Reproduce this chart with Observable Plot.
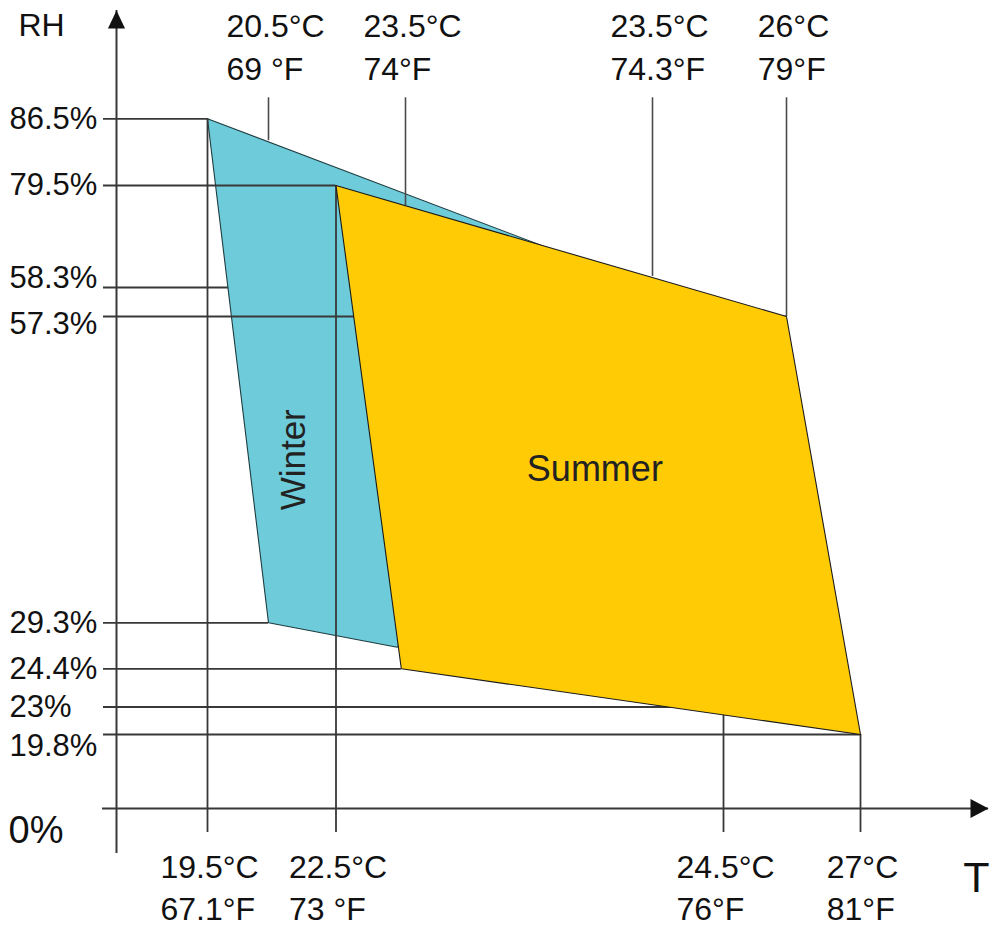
<!DOCTYPE html>
<html>
<head>
<meta charset="utf-8">
<script src="https://cdn.jsdelivr.net/npm/d3@7"></script>
<script src="https://cdn.jsdelivr.net/npm/@observablehq/plot@0.6"></script>
<style>
  html, body { margin: 0; padding: 0; background: #fff; }
  #chart { width: 996px; height: 927px; }
</style>
</head>
<body>
<div id="chart"></div>
<script>
// ---------------- data ----------------
// RH levels marked on the vertical axis
const rhTicks  = [86.5, 79.5, 58.3, 57.3, 29.3, 24.4, 23, 19.8];
const rhLabels = ["86.5%", "79.5%", "58.3%", "57.3%", "29.3%", "24.4%", "23%", "19.8%"];
// temperature (°F) at which each RH guide line ends
const rhEndF   = [67.1, 73, 74.3, 79, 69, 73.94, 76, 81];

// temperature markers above the zones
const topF      = [69, 74, 74.3, 79];
const topLabelC = ["20.5°C", "23.5°C", "23.5°C", "26°C"];
const topLabelF = ["69 °F", "74°F", "74.3°F", "79°F"];
const topEndRH  = [84.2, 75.3, 60.6, 57.3];

// temperature markers below the zones
const botF      = [67.1, 73, 76, 81];
const botLabelC = ["19.5°C", "22.5°C", "24.5°C", "27°C"];
const botLabelF = ["67.1°F", "73 °F", "76°F", "81°F"];
const botEndRH  = [86.5, 79.5, 22.1, 19.8];

// comfort zones (°F, RH %)
const winterF  = [67.1, 74.3, 73.88, 69];
const winterRH = [86.5, 58.3, 26.7, 29.3];
const summerF  = [73, 79, 81, 73.94];
const summerRH = [79.5, 57.3, 19.8, 24.4];

const zoneNames   = ["Winter", "Summer"];
const zoneLabelF  = [70.47, 74.23];
const zoneLabelRH = [44.2, 43.3];

// schematic, non-linear axes: origin plus the marked values
const xOrigin = 64;
const xKnots = [xOrigin, 67.1, 69, 73, 74, 74.3, 76, 79, 81];
const yKnots = [0, 19.8, 23, 24.4, 29.3, 57.3, 58.3, 79.5, 86.5];

// ---------------- tables ----------------
const hLines = rhTicks.map((rh, i) => ({rh, label: rhLabels[i], endF: rhEndF[i]}));
const topData = topF.map((f, i) => ({f, c: topLabelC[i], F: topLabelF[i], end: topEndRH[i]}));
const botData = botF.map((f, i) => ({f, c: botLabelC[i], F: botLabelF[i], end: botEndRH[i]}));
const closed = (F, RH) => F.concat([F[0]]).map((f, i) => ({f, rh: RH.concat([RH[0]])[i]}));
const winter = closed(winterF, winterRH);
const summer = closed(summerF, summerRH);
const zones = zoneNames.map((name, i) => ({name, f: zoneLabelF[i], rh: zoneLabelRH[i]}));

// ---------------- styles ----------------
const FONT = "'Liberation Sans', Arial, Helvetica, sans-serif";
const INK = "#111";
const LINE = "#383838";
const TEMP_SIZE = 32;
const arrowUp = {draw(ctx, size) { const r = Math.sqrt(size / Math.PI);
  ctx.moveTo(0, 0); ctx.lineTo(r * 0.95, r * 2); ctx.lineTo(-r * 0.95, r * 2); ctx.closePath(); }};
const arrowRight = {draw(ctx, size) { const r = Math.sqrt(size / Math.PI);
  ctx.moveTo(0, 0); ctx.lineTo(-r * 2, -r * 1.05); ctx.lineTo(-r * 2, r * 1.05); ctx.closePath(); }};

// text width, used to left-align each °F line under its centred °C line
const measure = document.createElement("canvas").getContext("2d");
measure.font = `${TEMP_SIZE}px ${FONT}`;
const textWidth = s => measure.measureText(s).width;

const rhText = (filter, dy) => Plot.text(hLines.filter(filter), {
  y: "rh", text: "label", frameAnchor: "left", textAnchor: "start", lineAnchor: "middle",
  dx: -93, dy, fontSize: 31, fill: INK
});

const tempLabels = (rows, anchor, shift, dyC, dyF) => rows.flatMap(d => [
  Plot.text([d], {x: "f", text: "c", frameAnchor: anchor, textAnchor: "middle", lineAnchor: "middle",
    dx: shift, dy: dyC, fontSize: TEMP_SIZE, fill: INK}),
  Plot.text([d], {x: "f", text: "F", frameAnchor: anchor, textAnchor: "start", lineAnchor: "middle",
    dx: shift - textWidth(d.c) / 2, dy: dyF, fontSize: TEMP_SIZE, fill: INK})
]);

const plot = Plot.plot({
  width: 996,
  height: 927,
  marginTop: 10,
  marginRight: 8,
  marginBottom: 74,
  marginLeft: 102,
  x: {type: "linear", domain: xKnots, range: [116, 207, 268, 335.5, 405, 652, 723, 786, 860], axis: null},
  y: {type: "linear", domain: yKnots, range: [808, 734, 706.5, 668.3, 622.3, 316, 287, 185, 118.3], axis: null},
  style: {fontFamily: FONT, background: "#fff", color: INK},
  marks: [
    // guide line hidden by the winter zone
    Plot.ruleY(hLines.filter(d => d.rh === 58.3), {y: "rh", x1: () => xOrigin, x2: "endF", insetLeft: -13, stroke: LINE, strokeWidth: 1.8}),
    // winter zone
    Plot.line(winter, {x: "f", y: "rh", fill: "#6ECCDA", stroke: "#1d3c40", strokeWidth: 1.1, curve: "linear"}),
    // other guide lines
    Plot.ruleY(hLines.filter(d => d.rh !== 58.3), {y: "rh", x1: () => xOrigin, x2: "endF", insetLeft: -13, stroke: LINE, strokeWidth: 1.8}),
    Plot.ruleX(botData, {x: "f", y1: () => 0, y2: "end", insetTop: 24, stroke: LINE, strokeWidth: 1.8}),
    Plot.ruleX(topData, {x: "f", y1: "end", y2: () => 86.5, insetBottom: 21, stroke: "#4a4a4a", strokeWidth: 1.6}),
    // summer zone
    Plot.line(summer, {x: "f", y: "rh", fill: "#FFCB05", stroke: "#1a1a1a", strokeWidth: 1.1, curve: "linear"}),
    // axes
    Plot.ruleX([xOrigin], {x: d => d, stroke: LINE, strokeWidth: 2}),
    Plot.ruleY([0], {y: d => d, stroke: LINE, strokeWidth: 2}),
    Plot.dot([xOrigin], {x: d => d, frameAnchor: "top", symbol: arrowUp, r: 9, fill: INK, stroke: null}),
    Plot.dot([0], {y: d => d, frameAnchor: "right", symbol: arrowRight, r: 9, fill: INK, stroke: null}),
    // RH labels
    rhText(d => ![58.3, 57.3, 19.8].includes(d.rh), 0),
    rhText(d => d.rh === 58.3, -9),
    rhText(d => d.rh === 57.3, 8),
    rhText(d => d.rh === 19.8, 12),
    Plot.text([{rh: 0, label: "0%"}], {y: "rh", text: "label", frameAnchor: "left", textAnchor: "start", lineAnchor: "middle", dx: -94, dy: 22, fontSize: 38, fill: INK}),
    // axis titles
    Plot.text(["RH"], {text: d => d, frameAnchor: "top-left", textAnchor: "middle", lineAnchor: "middle", dx: -61, dy: 15, fontSize: 32, fill: INK}),
    Plot.text(["T"], {text: d => d, frameAnchor: "bottom-right", textAnchor: "middle", lineAnchor: "middle", dx: -12, dy: 25, fontSize: 43, fill: INK}),
    // temperature labels
    ...tempLabels(topData, "top", 7, 16.5, 59),
    ...tempLabels(botData, "bottom", 2, 14, 56),
    // zone names
    Plot.text(zones.filter(d => d.name === "Winter"), {x: "f", y: "rh", text: "name", rotate: -90, textAnchor: "middle", lineAnchor: "middle", fontSize: 35, fill: "#222"}),
    Plot.text(zones.filter(d => d.name === "Summer"), {x: "f", y: "rh", text: "name", textAnchor: "middle", lineAnchor: "middle", fontSize: 36, fill: "#222"})
  ]
});

document.getElementById("chart").appendChild(plot);
</script>
</body>
</html>
